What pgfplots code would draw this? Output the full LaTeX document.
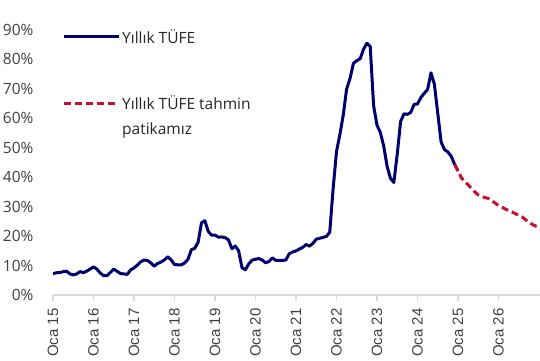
\documentclass[border=0pt]{standalone}
\usepackage{fontspec}
\setmainfont{Open Sans}
\newfontfamily\xfont{Liberation Sans}
\usepackage{pgfplots}
\pgfplotsset{compat=1.18}
\definecolor{navyc}{RGB}{0,0,110}
\definecolor{redc}{RGB}{200,16,46}
\definecolor{txt}{RGB}{64,64,64}
\definecolor{legtxt}{RGB}{38,38,38}
\definecolor{axc}{RGB}{217,217,217}
\begin{document}
\begin{tikzpicture}
\useasboundingbox (0,0) rectangle (540bp,361bp);
\begin{axis}[
  at={(53bp,66bp)}, anchor=south west, scale only axis,
  width=487bp, height=265bp,
  xmin=0, xmax=144.3, ymin=0, ymax=90,
  axis x line*=bottom, axis y line*=left,
  x axis line style={axc, line width=1.5bp, -},
  y axis line style={draw=none},
  xtick={0,12,...,132},
  xticklabels={Oca 15,Oca 16,Oca 17,Oca 18,Oca 19,Oca 20,Oca 21,Oca 22,Oca 23,Oca 24,Oca 25,Oca 26},
  x tick style={axc, line width=1.2bp}, tick align=outside, major tick length=6bp,
  xticklabel shift=4bp,
  ytick={0,10,...,90}, y tick style={draw=none},
  yticklabel={\pgfmathprintnumber{\tick}\%},
  /pgf/number format/assume math mode=true,
  x tick label style={rotate=90, anchor=east, font=\xfont\fontsize{15bp}{17bp}\selectfont, text=txt},
  y tick label style={font=\fontsize{15.5bp}{18bp}\selectfont, text=txt, xshift=-10bp},
  legend style={at={(0,1)}, anchor=north west, xshift=9bp, yshift=3bp, draw=none, fill=none,
    inner sep=0pt, font=\fontsize{15.5bp}{25bp}\selectfont, text=legtxt, row sep=47bp},
  legend cell align=left,
  legend image code/.code={\draw[#1] (0bp,0bp) -- (55bp,0bp);},
]
\addplot[navyc, line width=3bp, line join=round] coordinates {
(0,7.24)(1,7.55)(2,7.61)(3,7.91)(4,8.09)(5,7.20)(6,6.81)(7,7.14)(8,7.95)(9,7.58)(10,8.10)(11,8.81)
(12,9.58)(13,8.78)(14,7.46)(15,6.57)(16,6.58)(17,7.64)(18,8.79)(19,8.05)(20,7.28)(21,7.16)(22,7.00)(23,8.53)
(24,9.22)(25,10.13)(26,11.29)(27,11.87)(28,11.72)(29,10.90)(30,9.79)(31,10.68)(32,11.20)(33,11.90)(34,12.98)(35,11.92)
(36,10.35)(37,10.26)(38,10.23)(39,10.85)(40,12.15)(41,15.39)(42,15.85)(43,17.90)(44,24.52)(45,25.24)(46,21.62)(47,20.30)
(48,20.35)(49,19.67)(50,19.71)(51,19.50)(52,18.71)(53,15.72)(54,16.65)(55,15.01)(56,9.26)(57,8.55)(58,10.56)(59,11.84)
(60,12.15)(61,12.37)(62,11.86)(63,10.94)(64,11.39)(65,12.62)(66,11.76)(67,11.77)(68,11.75)(69,11.89)(70,14.03)(71,14.60)
(72,14.97)(73,15.61)(74,16.19)(75,17.14)(76,16.59)(77,17.53)(78,18.95)(79,19.25)(80,19.58)(81,19.89)(82,21.31)(83,36.08)
(84,48.69)(85,54.44)(86,61.14)(87,69.97)(88,73.50)(89,78.62)(90,79.60)(91,80.21)(92,83.45)(93,85.51)(94,84.39)(95,64.27)
(96,57.68)(97,55.18)(98,50.51)(99,43.68)(100,39.59)(101,38.21)(102,47.83)(103,58.94)(104,61.53)(105,61.36)(106,61.98)(107,64.77)
(108,64.86)(109,67.07)(110,68.50)(111,69.80)(112,75.45)(113,71.60)(114,61.78)(115,51.97)(116,49.38)(117,48.58)(118,47.09)(119,44.38)
(120,42.12)
};
\addlegendentry{Yıllık TÜFE}
\addplot[redc, line width=3bp, dash pattern=on 7bp off 4bp] coordinates {
(119,44.38)(120,42.1)(121,39.8)(122,38.6)(123,37.4)(124,36.2)(125,35.0)(126,34.0)(127,33.4)(128,33.1)
(129,32.8)(130,32.0)(131,31.2)(132,30.4)(133,29.9)(134,29.2)(135,28.7)(136,28.2)(137,27.6)(138,27.1)
(139,26.5)(140,25.6)(141,24.7)(142,24.0)(143,23.4)(144,23.1)
};
\addlegendentry{\vphantom{Yıllık TÜFE}\smash{\begin{tabular}[t]{@{}l@{}}Yıllık TÜFE tahmin\\patikamız\end{tabular}}}
\end{axis}
\end{tikzpicture}
\end{document}
